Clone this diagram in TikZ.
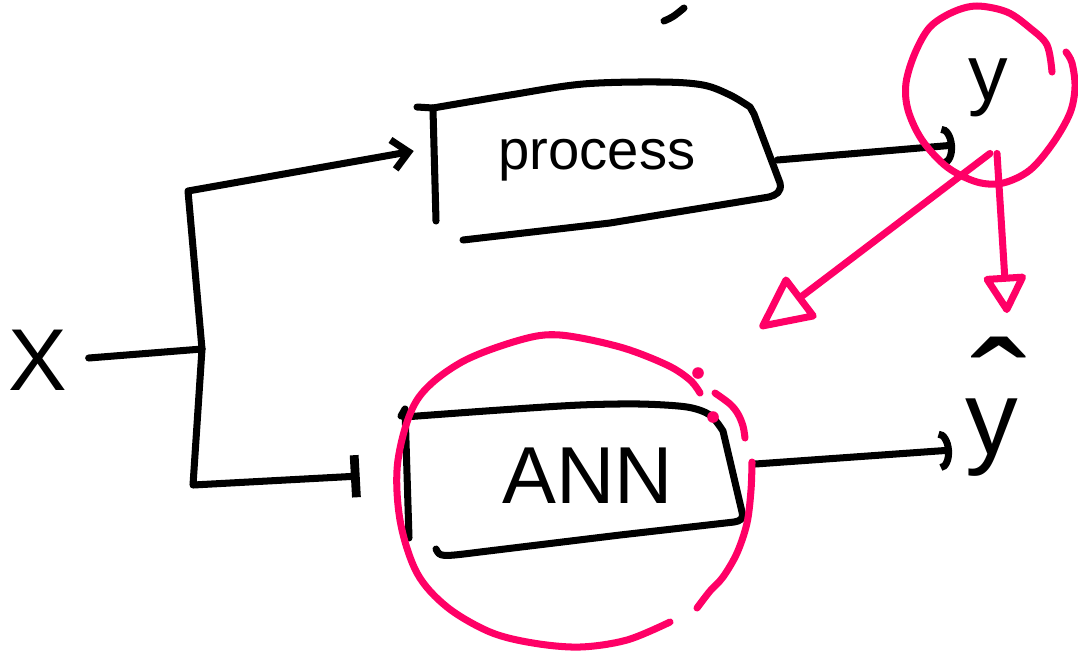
\documentclass[tikz,border=0pt]{standalone}
\usepackage{fontspec}
\setmainfont{Liberation Sans}
\usetikzlibrary{arrows.meta,calc}
\definecolor{marker}{HTML}{FF0066}
% y with a wide circumflex set well above it
\newcommand\hatty{\hbox{\ooalign{y\cr\hidewidth\kern0.14em\raisebox{0.1em}{\scalebox{1.6}[1.4]{\char"02C6}}\hidewidth\cr}}}

\begin{document}
\begin{tikzpicture}[x=0.02cm,y=-0.02cm,
  ink/.style={line width=4pt, line cap=round, line join=round, draw=black},
  hl/.style={line width=4pt, line cap=round, line join=round, draw=marker},
  txt/.style={inner sep=0pt, text=black},
  hand/.style={font=\fontsize{#1}{#1}\selectfont},
  outtip/.style={-{Arc Barb[width=23pt,length=7pt]}},
]
\fill[white] (0,0) rectangle (1078,654);
\useasboundingbox (0,0) rectangle (1078,654);

% labels and blocks
\node[txt, hand=50] (X) at (38,360) {X};
\node[txt, hand=32, minimum width=7.2cm, minimum height=2.9cm] (P) at (597,160) {process};
\node[txt, hand=46, minimum width=6.6cm, minimum height=2.8cm] (A) at (588,476) {ANN};
\node[txt, hand=45] (y) at (988,88) {y};
\node[txt, hand=60] (yh) at (992,427) {\hatty};
\coordinate (J) at (202,349);
\coordinate (aim) at (760,328);

% outline of the process block
\draw[ink] (417,107) -- (433,108);
\draw[ink] (433,110) -- (436,221);
\draw[ink] plot[smooth, tension=0.55] coordinates {(433,108) (510,95) (583,84) (660,82) (703,85) (730,95) (750,107)}
  -- (754,114) -- (780,183) .. controls (782,192) and (776,195) .. (769,197) -- (610,223) -- (463,240);

% outline of the ANN block
\draw[ink] (401,416) -- (405,409) -- (409,538);
\draw[ink] plot[smooth, tension=0.5] coordinates {(404,417) (500,410) (580,405) (640,404) (687,407) (710,415) (723,431)}
  -- (742,512) .. controls (744,519) and (740,521) .. (734,522) -- (620,535) -- (480,552) .. controls (440,557) .. (436,549);

% signal paths
\draw[ink] ($(X.east)+(21,-2)$) -- (J);
\draw[ink, -{Straight Barb[length=9pt,width=17pt]}] (J) -- (188,191) -- ($(P.west)+(-3,-9)$);
\draw[ink, -{Bar[width=24pt,line width=5pt]}] (J) -- (193,485) -- ($(A.west)+(-63,0)$);
\draw[ink, outtip] (P.east) -- ($(y)+(-33,57)$);
\draw[ink, outtip] ($(A.east)+(2,-12)$) -- ($(yh)+(-40,23)$);

% stray pen mark
\draw[ink] (664,21) .. controls (673,17) .. (684,8);

% highlight around y
\draw[hl] plot[smooth, tension=0.55] coordinates {(1052,72) (1047,45) (1030,28) (1007,12) (977,6) (953,12) (930,27) (915,53) (906,83) (908,110) (922,140) (947,167) (977,182) (1003,183) (1030,170) (1053,143) (1070,113) (1075,87) (1072,63) (1066,52)};

% highlight around the ANN block
\draw[hl] plot[smooth, tension=0.55] coordinates {(700,393) (690,380) (667,365) (620,347) (560,335) (520,340) (460,363) (417,400) (398,460) (400,520) (417,573) (447,607) (490,632) (533,643) (580,647) (627,640) (670,622)};
\draw[hl] plot[smooth, tension=0.55] coordinates {(715,393) (730,404) (738,414) (743,426) (745,438)};
\draw[hl] plot[smooth, tension=0.55] coordinates {(752,462) (751,490) (747,523) (737,553) (723,577) (710,591) (697,608)};
\fill[marker] (698,373) circle (3.3pt);
\fill[marker] (713,417) circle (3.3pt);

% arrows from y
\draw[hl, -{Triangle[open,round,length=33pt,width=31pt]}] ($(y.south)+(2,36)$) -- (aim);
\draw[hl, -{Triangle[open,round,length=24pt,width=26pt]}] ($(y.south)+(9,36)$) -- ($(yh)+(15,-114)$);
\end{tikzpicture}
\end{document}
